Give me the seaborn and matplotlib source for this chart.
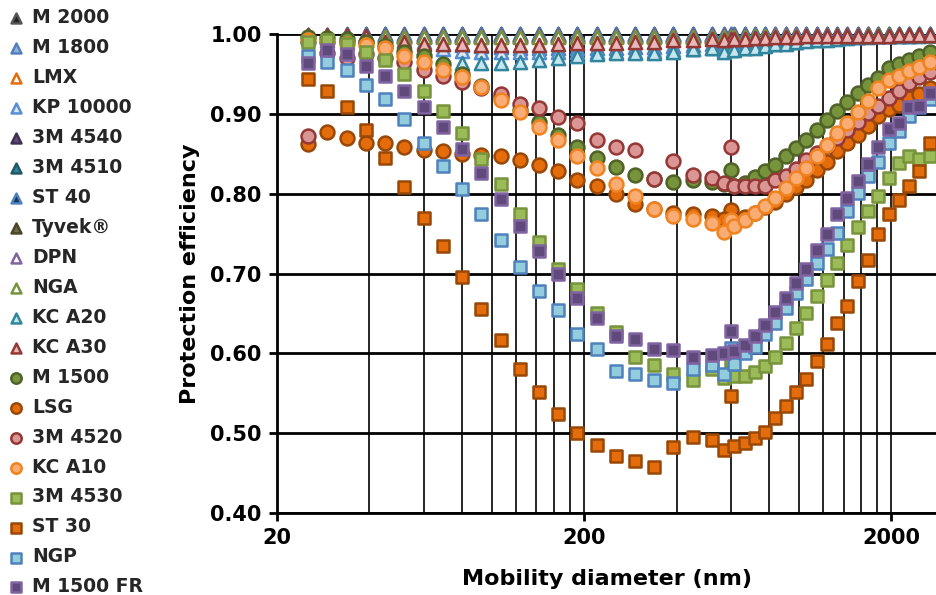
import numpy as np
import pandas as pd
import matplotlib
matplotlib.use("Agg")
import matplotlib.pyplot as plt
import seaborn as sns
from matplotlib.ticker import FixedLocator, NullFormatter

sns.set_theme(style="white")
plt.rcParams['font.family'] = ['DejaVu Sans']
plt.rcParams['font.weight'] = 'bold'

# ---------------- data ----------------
smps_x = [25.3, 29.2, 33.7, 39.0, 45.0, 52.0, 60.1, 69.4, 80.1, 92.5, 106.9, 123.4,
          142.5, 164.6, 190.1, 219.6, 253.6, 292.9, 338.3, 390.7, 451.2, 521.1, 601.8]
aps_x = [571.6, 617.4, 666.9, 720.3, 778.0, 840.3, 907.7, 980.4, 1059, 1144, 1235,
         1334, 1441, 1557, 1681, 1816, 1961, 2118, 2288, 2472, 2670]
diameter = smps_x + aps_x

m2000 = [0.999, 0.999, 1.000, 1.000, 1.000, 0.999, 1.000, 1.000, 1.000, 1.000, 1.000, 1.000,
         1.000, 1.000, 1.000, 1.000, 1.000, 1.000, 1.000, 1.000, 1.000, 1.000, 0.999,
         0.999, 0.999, 1.000, 1.000, 1.000, 1.000, 1.000, 1.000, 1.000, 1.000, 1.000,
         1.000, 1.000, 1.000, 1.000, 1.000, 1.000, 1.000, 1.000, 1.000, 1.000]
m1800 = [0.998, 0.998, 0.997, 0.996, 0.994, 0.992, 0.990, 0.988, 0.986, 0.985, 0.984, 0.983,
         0.983, 0.983, 0.983, 0.983, 0.983, 0.984, 0.984, 0.985, 0.986, 0.987, 0.986,
         0.986, 0.987, 0.988, 0.989, 0.990, 0.991, 0.992, 0.993, 0.994, 0.995, 0.996,
         0.997, 0.997, 0.998, 0.998, 0.998, 0.999, 0.999, 0.999, 0.999, 0.999]
lmx = [0.998, 0.998, 0.999, 0.999, 0.999, 0.998, 0.998, 0.998, 0.998, 0.998, 0.998, 0.998,
       0.998, 0.998, 0.998, 0.998, 0.998, 0.998, 0.998, 0.998, 0.998, 0.998, 0.998,
       0.998, 0.998, 0.998, 0.998, 0.999, 0.999, 0.999, 0.999, 0.999, 0.999, 0.999,
       0.999, 0.999, 0.999, 0.999, 0.999, 0.999, 0.999, 0.999, 0.999, 0.999]
kp10000 = [0.997, 0.996, 0.995, 0.993, 0.990, 0.987, 0.984, 0.981, 0.979, 0.978, 0.977, 0.977,
           0.977, 0.977, 0.977, 0.978, 0.978, 0.978, 0.979, 0.980, 0.981, 0.982, 0.981,
           0.980, 0.982, 0.983, 0.985, 0.986, 0.988, 0.989, 0.990, 0.992, 0.993, 0.994,
           0.995, 0.996, 0.996, 0.997, 0.997, 0.998, 0.998, 0.998, 0.999, 0.999]
m4540 = [0.999, 0.999, 0.999, 1.000, 1.000, 1.000, 1.000, 1.000, 1.000, 1.000, 1.000, 1.000,
         1.000, 1.000, 1.000, 1.000, 1.000, 1.000, 1.000, 1.000, 1.000, 1.000, 1.000,
         1.000, 1.000, 1.000, 1.000, 1.000, 1.000, 1.000, 1.000, 1.000, 1.000, 1.000,
         1.000, 1.000, 1.000, 1.000, 1.000, 1.000, 1.000, 1.000, 1.000, 1.000]
m4510 = [0.998, 0.998, 0.998, 0.998, 0.998, 0.998, 0.998, 0.999, 0.999, 0.999, 0.999, 0.999,
         0.999, 0.999, 0.999, 0.999, 0.999, 0.999, 0.999, 0.999, 0.999, 0.999, 0.999,
         0.999, 0.999, 0.999, 0.999, 0.999, 0.999, 0.999, 0.999, 0.999, 0.999, 0.999,
         0.999, 0.999, 0.999, 1.000, 1.000, 1.000, 1.000, 1.000, 1.000, 1.000]
st40 = [0.999, 0.999, 1.000, 1.000, 1.000, 1.000, 1.000, 1.000, 1.000, 1.000, 1.000, 1.000,
        1.000, 1.000, 1.000, 1.000, 1.000, 1.000, 1.000, 1.000, 1.000, 1.000, 1.000,
        1.000, 1.000, 1.000, 1.000, 1.000, 1.000, 1.000, 1.000, 1.000, 1.000, 1.000,
        1.000, 1.000, 1.000, 1.000, 1.000, 1.000, 1.000, 1.000, 1.000, 1.000]
tyvek = [0.997, 0.997, 0.997, 0.997, 0.997, 0.997, 0.997, 0.997, 0.997, 0.997, 0.997, 0.997,
         0.997, 0.997, 0.997, 0.997, 0.997, 0.997, 0.997, 0.997, 0.997, 0.997, 0.997,
         0.997, 0.997, 0.997, 0.998, 0.998, 0.998, 0.998, 0.998, 0.998, 0.998, 0.998,
         0.999, 0.999, 0.999, 0.999, 0.999, 0.999, 0.999, 0.999, 0.999, 0.999]
dpn = [0.998, 0.998, 0.998, 0.998, 0.998, 0.998, 0.998, 0.998, 0.998, 0.998, 0.998, 0.998,
       0.998, 0.998, 0.998, 0.998, 0.998, 0.998, 0.998, 0.998, 0.998, 0.998, 0.998,
       0.998, 0.998, 0.998, 0.998, 0.998, 0.999, 0.999, 0.999, 0.999, 0.999, 0.999,
       0.999, 0.999, 0.999, 0.999, 0.999, 0.999, 0.999, 0.999, 0.999, 0.999]
nga = [0.996, 0.996, 0.996, 0.996, 0.996, 0.996, 0.996, 0.996, 0.996, 0.996, 0.996, 0.996,
       0.996, 0.996, 0.996, 0.996, 0.996, 0.996, 0.996, 0.996, 0.996, 0.996, 0.996,
       0.996, 0.996, 0.996, 0.997, 0.997, 0.997, 0.997, 0.997, 0.998, 0.998, 0.998,
       0.998, 0.998, 0.998, 0.999, 0.999, 0.999, 0.999, 0.999, 0.999, 0.999]
kca20 = [0.995, 0.993, 0.990, 0.985, 0.980, 0.975, 0.968, 0.964, 0.964, 0.964, 0.964, 0.965,
         0.967, 0.970, 0.972, 0.975, 0.976, 0.976, 0.976, 0.977, 0.981, 0.983, 0.980,
         0.978, 0.980, 0.982, 0.983, 0.985, 0.987, 0.988, 0.990, 0.991, 0.992, 0.993,
         0.994, 0.995, 0.996, 0.996, 0.997, 0.997, 0.998, 0.998, 0.998, 0.999]
kca30 = [0.999, 0.999, 0.999, 0.998, 0.990, 0.990, 0.988, 0.987, 0.987, 0.986, 0.986, 0.986,
         0.986, 0.988, 0.989, 0.989, 0.989, 0.990, 0.990, 0.992, 0.993, 0.994, 0.994,
         0.993, 0.994, 0.994, 0.995, 0.995, 0.996, 0.996, 0.996, 0.997, 0.997, 0.997,
         0.997, 0.998, 0.998, 0.998, 0.998, 0.998, 0.999, 0.999, 0.999, 0.999]
m1500 = [0.996, 0.995, 0.994, 0.990, 0.985, 0.978, 0.972, 0.962, 0.950, 0.935, 0.921, 0.905,
         0.890, 0.874, 0.859, 0.845, 0.834, 0.823, 0.818, 0.814, 0.817, 0.815, 0.830,
         0.812, 0.810, 0.813, 0.821, 0.828, 0.836, 0.847, 0.857, 0.867, 0.880, 0.892,
         0.904, 0.915, 0.926, 0.936, 0.945, 0.957, 0.962, 0.967, 0.972, 0.977]
lsg = [0.862, 0.877, 0.870, 0.863, 0.864, 0.858, 0.855, 0.854, 0.850, 0.849, 0.847, 0.842,
       0.836, 0.828, 0.817, 0.809, 0.799, 0.787, 0.781, 0.776, 0.774, 0.772, 0.780,
       0.768, 0.766, 0.771, 0.776, 0.783, 0.790, 0.799, 0.808, 0.817, 0.830, 0.840,
       0.853, 0.863, 0.874, 0.885, 0.897, 0.906, 0.911, 0.920, 0.925, 0.932]
m4520 = [0.872, 0.976, 0.970, 0.975, 0.970, 0.965, 0.955, 0.947, 0.940, 0.932, 0.925, 0.912,
         0.907, 0.896, 0.888, 0.867, 0.859, 0.855, 0.818, 0.841, 0.824, 0.820, 0.859,
         0.813, 0.810, 0.810, 0.810, 0.810, 0.817, 0.822, 0.831, 0.842, 0.851, 0.860,
         0.870, 0.880, 0.890, 0.901, 0.910, 0.920, 0.929, 0.938, 0.946, 0.953]
kca10 = [0.992, 0.990, 0.988, 0.986, 0.982, 0.972, 0.965, 0.955, 0.946, 0.933, 0.917, 0.902,
         0.883, 0.867, 0.847, 0.832, 0.812, 0.797, 0.781, 0.772, 0.768, 0.763, 0.767,
         0.752, 0.759, 0.767, 0.776, 0.785, 0.795, 0.807, 0.820, 0.832, 0.847, 0.861,
         0.876, 0.888, 0.902, 0.916, 0.932, 0.942, 0.947, 0.954, 0.959, 0.965]
m4530 = [0.990, 0.993, 0.988, 0.978, 0.967, 0.950, 0.929, 0.903, 0.876, 0.843, 0.812, 0.775,
         0.739, 0.706, 0.681, 0.650, 0.627, 0.596, 0.585, 0.574, 0.566, 0.580, 0.591,
         0.569, 0.571, 0.572, 0.576, 0.584, 0.596, 0.613, 0.632, 0.650, 0.672, 0.692,
         0.713, 0.736, 0.758, 0.778, 0.797, 0.820, 0.838, 0.847, 0.843, 0.847]
st30 = [0.944, 0.929, 0.908, 0.880, 0.845, 0.808, 0.770, 0.735, 0.695, 0.656, 0.617, 0.581,
        0.552, 0.524, 0.500, 0.485, 0.472, 0.465, 0.457, 0.483, 0.495, 0.492, 0.547,
        0.479, 0.484, 0.488, 0.494, 0.502, 0.519, 0.534, 0.552, 0.568, 0.590, 0.612,
        0.638, 0.659, 0.691, 0.717, 0.749, 0.775, 0.792, 0.809, 0.828, 0.864]
ngp = [0.972, 0.965, 0.955, 0.936, 0.918, 0.893, 0.864, 0.835, 0.806, 0.775, 0.742, 0.708,
       0.678, 0.654, 0.624, 0.605, 0.578, 0.574, 0.567, 0.563, 0.581, 0.586, 0.607,
       0.574, 0.587, 0.600, 0.608, 0.624, 0.638, 0.657, 0.675, 0.693, 0.713, 0.731,
       0.751, 0.778, 0.801, 0.822, 0.840, 0.863, 0.878, 0.897, 0.908, 0.918]
m1500fr = [0.964, 0.980, 0.975, 0.960, 0.948, 0.929, 0.908, 0.884, 0.856, 0.826, 0.793, 0.760,
           0.728, 0.699, 0.669, 0.644, 0.622, 0.618, 0.605, 0.604, 0.596, 0.598, 0.628,
           0.600, 0.603, 0.610, 0.622, 0.636, 0.652, 0.669, 0.688, 0.706, 0.730, 0.749,
           0.775, 0.794, 0.816, 0.837, 0.859, 0.881, 0.889, 0.909, 0.910, 0.926]

names = ["M 2000", "M 1800", "LMX", "KP 10000", "3M 4540", "3M 4510", "ST 40", "Tyvek®",
         "DPN", "NGA", "KC A20", "KC A30", "M 1500", "LSG", "3M 4520", "KC A10",
         "3M 4530", "ST 30", "NGP", "M 1500 FR"]
values = [m2000, m1800, lmx, kp10000, m4540, m4510, st40, tyvek, dpn, nga, kca20, kca30,
          m1500, lsg, m4520, kca10, m4530, st30, ngp, m1500fr]
markers = ['^'] * 12 + ['o'] * 4 + ['s'] * 4
fills = ["#222222", "#95B3D7", "#FFFFFF", "#DCE6F2", "#604A7B", "#31859C", "#17375E", "#6E6A45",
         "#FFFFFF", "#FFFFFF", "#C5E6EE", "#E6B9B8",
         "#77933C", "#E46C0A", "#D99694", "#F9AC73",
         "#9BBB59", "#E46C0A", "#93CDDD", "#604A7B"]
edges = ["#555555", "#4F81BD", "#E46C0A", "#558ED5", "#3F3151", "#205867", "#4F81BD", "#494529",
         "#8064A2", "#77933C", "#31859C", "#953735",
         "#4F6228", "#984807", "#953735", "#F0831F",
         "#77933C", "#984807", "#4F81BD", "#8064A2"]
sizes = {'^': 90, 'o': 100, 's': 80}

x_ticks = [20, 200, 2000]
x_tick_labels = ["20", "200", "2000"]
x_grid = [40, 60, 80, 100, 120, 140, 160, 180, 400, 600, 800, 1000, 1200, 1400, 1600, 1800]
y_ticks = [0.40, 0.50, 0.60, 0.70, 0.80, 0.90, 1.00]
y_tick_labels = ["0.40", "0.50", "0.60", "0.70", "0.80", "0.90", "1.00"]

# ---------------- figure ----------------
W, H = 936, 595
fig = plt.figure(figsize=(W / 100, H / 100), dpi=100)
ax = fig.add_axes([277 / W, 1 - 513 / H, 1 - 277 / W, (513 - 34) / H])

for i, (name, vals, mk, fc, ec) in enumerate(zip(names, values, markers, fills, edges)):
    df = pd.DataFrame({"Mobility diameter": diameter, "Protection efficiency": vals})
    sns.scatterplot(data=df, x="Mobility diameter", y="Protection efficiency", ax=ax,
                    marker=mk, s=sizes[mk], color=fc, edgecolor=ec, linewidth=1.8,
                    label=name, clip_on=False, zorder=3 + i)

if ax.get_legend() is not None:
    ax.get_legend().remove()

ax.set_xscale('log')
ax.set_xlim(20, 2800)
ax.set_ylim(0.40, 1.00)
ax.set_xticks(x_ticks)
ax.set_xticklabels(x_tick_labels)
ax.xaxis.set_minor_locator(FixedLocator(x_grid))
ax.xaxis.set_minor_formatter(NullFormatter())
ax.set_yticks(y_ticks)
ax.set_yticklabels(y_tick_labels)

ax.set_axisbelow(True)
ax.grid(which='major', axis='y', color='black', linewidth=2.0)
ax.grid(which='both', axis='x', color='black', linewidth=1.2)
ax.tick_params(axis='x', which='minor', length=0)
ax.tick_params(axis='both', which='major', direction='out', length=6, width=2,
               color='black', labelsize=15, labelcolor='black', bottom=True, left=True, pad=5)
for lab in ax.get_xticklabels() + ax.get_yticklabels():
    lab.set_fontweight('bold')

for side in ['top', 'right']:
    ax.spines[side].set_visible(False)
for side in ['left', 'bottom']:
    ax.spines[side].set_color('black')
    ax.spines[side].set_linewidth(2.0)

ax.set_xlabel("Mobility diameter (nm)", fontsize=16, fontweight='bold', color='black', labelpad=15)
ax.set_ylabel("Protection efficiency", fontsize=16, fontweight='bold', color='black', labelpad=7)

handles, labels = ax.get_legend_handles_labels()
leg = fig.legend(handles, labels, loc='upper left', bbox_to_anchor=(7 / W, 1 - 8 / H),
                 frameon=False, prop={'size': 13.5, 'weight': 'bold'}, labelspacing=0.585,
                 handletextpad=0.35, handlelength=1.0, borderpad=0, borderaxespad=0,
                 markerscale=0.75)

fig.savefig("out.png", dpi=100)
